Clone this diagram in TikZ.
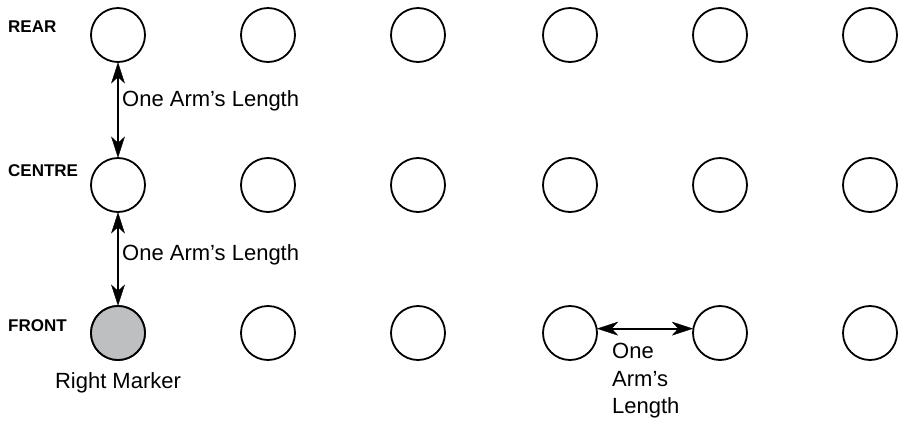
\documentclass[tikz,border=0pt]{standalone}
\usepackage{fontspec}
\setmainfont{Liberation Sans}
\definecolor{markergrey}{HTML}{BEBFC1}
\begin{document}
\begin{tikzpicture}[x=1pt,y=-1pt,
  spot/.style={circle,draw=black,line width=1.8pt,minimum size=54pt,inner sep=0pt},
  rowlabel/.style={font=\fontsize{17}{20}\selectfont\bfseries,anchor=west,inner sep=0pt},
  dist/.style={line width=1.8pt,shorten <=8pt,shorten >=8pt},
  head/.style={fill=black,draw=black,line width=0.4pt,line join=miter},
  note/.style={font=\fontsize{22}{27.5}\selectfont,inner sep=0pt}]
\useasboundingbox (0,0) rectangle (906,424);
% grid of positions: three rows, six columns
\foreach \r/\y in {r/35,c/185,f/333}{
  \foreach \i/\x in {1/118,2/268,3/418,4/570,5/720,6/870}{
    \node[spot] (\r\i) at (\x,\y) {};
  }
}
\node[spot,fill=markergrey] at (f1) {};
% row names
\node[rowlabel] (rear) at (8,27) {REAR};
\node[rowlabel] (centre) at (8,171) {CENTRE};
\node[rowlabel] (front) at (8,326) {FRONT};
% rear to centre
\draw[dist] (r1.south) -- (c1.north);
\filldraw[head] (r1.south) -- ++(-6.5,20) -- ++(6.5,-6) -- ++(6.5,6) -- cycle;
\filldraw[head] (c1.north) -- ++(-6.5,-20) -- ++(6.5,6) -- ++(6.5,-6) -- cycle;
\node[note,anchor=west] (l1) at (122,101) {One Arm’s Length};
% centre to front
\draw[dist] (c1.south) -- (f1.north);
\filldraw[head] (c1.south) -- ++(-6.5,20) -- ++(6.5,-6) -- ++(6.5,6) -- cycle;
\filldraw[head] (f1.north) -- ++(-6.5,-20) -- ++(6.5,6) -- ++(6.5,-6) -- cycle;
\node[note,anchor=west] (l2) at (122,255) {One Arm’s Length};
% side by side in the front row
\draw[dist] (f4.9) -- (f5.171);
\filldraw[head] (f4.9) -- ++(20,-6.5) -- ++(-6,6.5) -- ++(6,6.5) -- cycle;
\filldraw[head] (f5.171) -- ++(-20,-6.5) -- ++(6,6.5) -- ++(-6,6.5) -- cycle;
\node[note,anchor=north west,align=left] (l3) at (612,343) {One\\Arm’s\\Length};
\node[note] (rm) at (118,383) {Right Marker};
\end{tikzpicture}
\end{document}
